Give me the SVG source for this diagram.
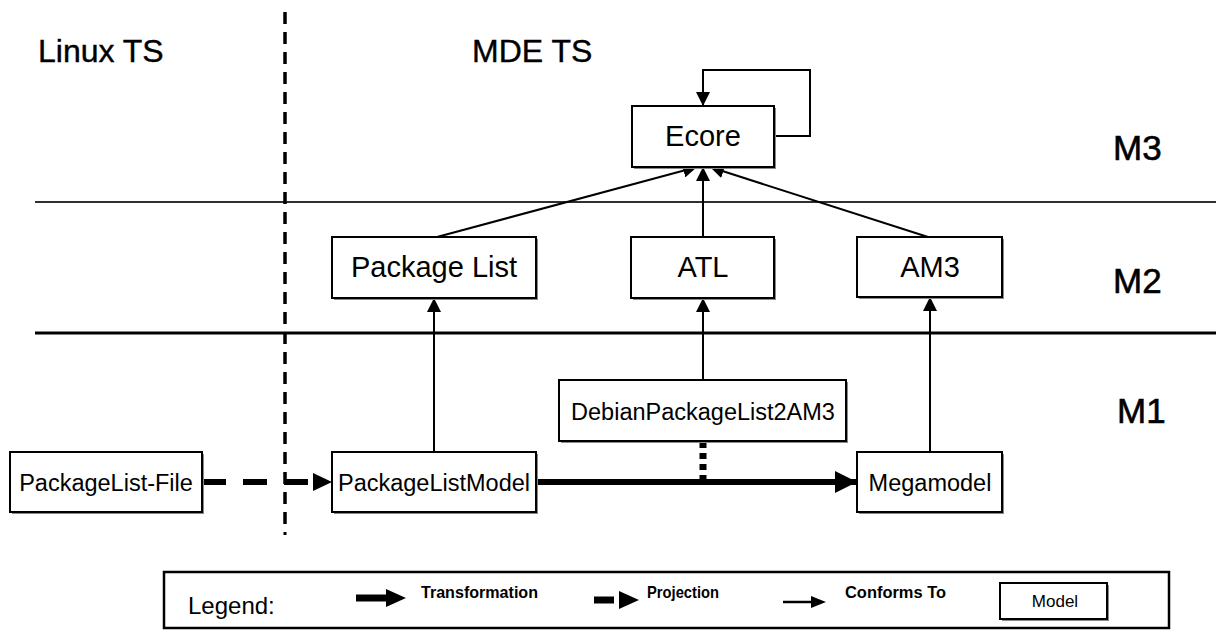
<svg xmlns="http://www.w3.org/2000/svg" width="1216" height="630" viewBox="0 0 1216 630">
  <style>
    .box { fill: #ffffff; stroke: #000000; stroke-width: 2; }
    .shadow { fill: #8a8a8a; }
    .t { font-family: "Liberation Sans", Arial, sans-serif; fill: #000000; }
    .big { font-size: 29px; text-anchor: middle; }
    .small { font-size: 23.5px; text-anchor: middle; }
    .head { font-size: 32px; stroke: #000000; stroke-width: 0.4; }
    .level { font-size: 35px; stroke: #000000; stroke-width: 0.6; }
    .lg { font-size: 17px; font-weight: bold; }
    .conf { fill: none; stroke: #000000; stroke-width: 2; }
  </style>
  <defs>
    <marker id="conformHead" markerUnits="userSpaceOnUse" markerWidth="14" markerHeight="14" viewBox="0 0 12 12" refX="12" refY="6" orient="auto">
      <path d="M0,0 L12,6 L0,12 Z" fill="#000000"/>
    </marker>
    <marker id="transHead" markerUnits="userSpaceOnUse" markerWidth="22" markerHeight="22" viewBox="0 0 20 20" refX="20" refY="10" orient="auto">
      <path d="M0,0 L20,10 L0,20 Z" fill="#000000"/>
    </marker>
  </defs>

  <!-- level separators -->
  <g id="levels">
    <line x1="35" y1="202" x2="1216" y2="202" style="stroke:#303030;stroke-width:2"/>
    <line x1="35" y1="333" x2="1216" y2="333" style="stroke:#000000;stroke-width:3"/>
  </g>

  <!-- technical space separator -->
  <g id="space-separator">
    <line x1="285" y1="12" x2="285" y2="528" stroke="#000000" stroke-width="3.5" stroke-dasharray="12 8"/>
    <rect x="283.5" y="532" width="3" height="3" fill="#000000"/>
  </g>

  <!-- headings -->
  <g id="headings">
    <text class="t head" x="38" y="62">Linux TS</text>
    <text class="t head" x="472" y="62">MDE TS</text>
    <text class="t level" x="1113" y="160">M3</text>
    <text class="t level" x="1113" y="293">M2</text>
    <text class="t level" x="1117" y="423">M1</text>
  </g>

  <!-- connectors -->
  <g id="connectors">
    <!-- conforms-to links -->
    <path class="conf" d="M774,136 H810 V70 H703 V106" marker-end="url(#conformHead)"/>
    <line class="conf" x1="437" y1="237" x2="697" y2="167" marker-end="url(#conformHead)"/>
    <line class="conf" x1="703" y1="237" x2="703" y2="167" marker-end="url(#conformHead)"/>
    <line class="conf" x1="928" y1="237" x2="710" y2="167" marker-end="url(#conformHead)"/>
    <line class="conf" x1="434" y1="452" x2="434" y2="298" marker-end="url(#conformHead)"/>
    <line class="conf" x1="703" y1="380" x2="703" y2="298" marker-end="url(#conformHead)"/>
    <line class="conf" x1="930" y1="452" x2="930" y2="297" marker-end="url(#conformHead)"/>
    <!-- transformation -->
    <line x1="536" y1="482" x2="857" y2="482" stroke="#000000" stroke-width="6" marker-end="url(#transHead)"/>
    <!-- transformation program link -->
    <line x1="703" y1="442" x2="703" y2="480" stroke="#000000" stroke-width="7" stroke-dasharray="6 5"/>
    <!-- projection -->
    <line x1="202" y1="482" x2="314" y2="482" stroke="#000000" stroke-width="6" stroke-dasharray="24 17"/>
    <path d="M313,473 L332,482 L313,491 Z" fill="#000000"/>
  </g>

  <!-- nodes -->
  <g id="ecore">
    <rect class="shadow" x="634" y="108" width="142" height="61"/>
    <rect class="box" x="632" y="106" width="142" height="61"/>
    <text class="t big" x="703" y="146">Ecore</text>
  </g>
  <g id="package-list">
    <rect class="shadow" x="334" y="239" width="204" height="61"/>
    <rect class="box" x="332" y="237" width="204" height="61"/>
    <text class="t big" x="434" y="277">Package List</text>
  </g>
  <g id="atl">
    <rect class="shadow" x="633" y="239" width="143" height="61"/>
    <rect class="box" x="631" y="237" width="143" height="61"/>
    <text class="t big" x="703" y="277">ATL</text>
  </g>
  <g id="am3">
    <rect class="shadow" x="859" y="239" width="145" height="60"/>
    <rect class="box" x="857" y="237" width="145" height="60"/>
    <text class="t big" x="930" y="277">AM3</text>
  </g>
  <g id="debian-package-list-2-am3">
    <rect class="shadow" x="561" y="382" width="287" height="61"/>
    <rect class="box" x="559" y="380" width="287" height="61"/>
    <text class="t small" x="703" y="420">DebianPackageList2AM3</text>
  </g>
  <g id="package-list-file">
    <rect class="shadow" x="12" y="454" width="192" height="60"/>
    <rect class="box" x="10" y="452" width="192" height="60"/>
    <text class="t small" x="106" y="491">PackageList-File</text>
  </g>
  <g id="package-list-model">
    <rect class="shadow" x="334" y="454" width="204" height="60"/>
    <rect class="box" x="332" y="452" width="204" height="60"/>
    <text class="t small" x="434" y="491">PackageListModel</text>
  </g>
  <g id="megamodel">
    <rect class="shadow" x="859" y="454" width="145" height="60"/>
    <rect class="box" x="857" y="452" width="145" height="60"/>
    <text class="t small" x="930" y="491">Megamodel</text>
  </g>

  <!-- legend -->
  <g id="legend">
    <rect x="164" y="572" width="1005" height="56" fill="#ffffff" stroke="#000000" stroke-width="2.5"/>
    <text class="t" x="188" y="614" font-size="24px">Legend:</text>
    <line x1="356" y1="598" x2="388" y2="598" stroke="#000000" stroke-width="7"/>
    <path d="M386,589 L406,598 L386,607 Z" fill="#000000"/>
    <text class="t lg" x="421" y="598" textLength="117" lengthAdjust="spacingAndGlyphs">Transformation</text>
    <line x1="594" y1="600" x2="614" y2="600" stroke="#000000" stroke-width="7"/>
    <path d="M619,591 L639,600 L619,609 Z" fill="#000000"/>
    <text class="t lg" x="647" y="598" textLength="72" lengthAdjust="spacingAndGlyphs">Projection</text>
    <line x1="783" y1="602" x2="814" y2="602" stroke="#000000" stroke-width="2.5"/>
    <path d="M811,596 L826,602 L811,608 Z" fill="#000000"/>
    <text class="t lg" x="845" y="598" textLength="101" lengthAdjust="spacingAndGlyphs">Conforms To</text>
    <rect class="shadow" x="1002" y="585" width="107" height="36"/>
    <rect class="box" x="1000" y="583" width="107" height="36"/>
    <text class="t" x="1055" y="607" font-size="17px" text-anchor="middle">Model</text>
  </g>
</svg>
